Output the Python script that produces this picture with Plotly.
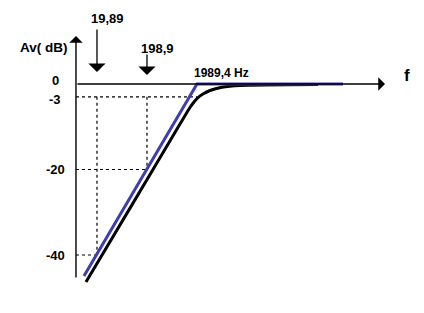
import numpy as np
import plotly.graph_objects as go

# ---- data (Bode sketch of a high-pass, 20 dB/decade) ----
corner_freqs = [19.89, 198.9, 1989.4]          # Hz
corner_levels = [-40, -20, -3]                 # dB levels marked with dotted guides
top_labels = ["19,89", "198,9"]
fc_label = "1989,4 Hz"

asym_f = [10.93, 1989.4, 1.654e6]              # blue asymptotic response
asym_db = [-44.9, 0, 0]

resp_f = [11.98, 119.8, 909.2, 1198, 1441, 1732, 2083, 2622, 3620, 6290, 14410, 523000]   # black real response
resp_db = [-46.3, -26.7, -9.36, -7.02, -5.5, -4.21, -3.16, -2.34, -1.52, -0.77, -0.35, -0.12]

ytick_vals = [0, -3, -20, -40]
ytick_text = ["0", "-3", "-20", "-40"]

# axis extents (frequency of the vertical axis, end of horizontal axis, dB extents)
F_AXIS = 7.56
F_END = 1.145e7
DB_TOP = 11.2
DB_BOTTOM = -45.6

BLUE = "#3d3db4"
FONT = "Liberation Sans"

fig = go.Figure()

# dotted guide lines
dot = dict(color="black", width=1.2, dash="dot")
fig.add_trace(go.Scatter(x=[F_AXIS, corner_freqs[2]], y=[corner_levels[2]] * 2,
                         mode="lines", line=dot, hoverinfo="skip"))
fig.add_trace(go.Scatter(x=[corner_freqs[0]] * 2, y=[corner_levels[2], corner_levels[0]],
                         mode="lines", line=dot, hoverinfo="skip"))
fig.add_trace(go.Scatter(x=[corner_freqs[1]] * 2, y=[corner_levels[2], corner_levels[1]],
                         mode="lines", line=dot, hoverinfo="skip"))
fig.add_trace(go.Scatter(x=[F_AXIS, corner_freqs[1]], y=[corner_levels[1]] * 2,
                         mode="lines", line=dot, hoverinfo="skip"))
fig.add_trace(go.Scatter(x=[F_AXIS, corner_freqs[0]], y=[corner_levels[0]] * 2,
                         mode="lines", line=dict(color="black", width=1.2, dash="3px,3px"),
                         hoverinfo="skip"))

# real response (black) and asymptote (blue)
fig.add_trace(go.Scatter(x=resp_f, y=resp_db, mode="lines",
                         line=dict(color="black", width=3, shape="spline", smoothing=0.6),
                         hoverinfo="skip"))
fig.add_trace(go.Scatter(x=asym_f, y=asym_db, mode="lines",
                         line=dict(color=BLUE, width=3), hoverinfo="skip"))

ann = []
# axes as arrows
ann.append(dict(x=np.log10(F_AXIS), y=DB_TOP, ax=np.log10(F_AXIS), ay=DB_BOTTOM,
                xref="x", yref="y", axref="x", ayref="y", text="", showarrow=True,
                arrowhead=1, arrowsize=1.6, arrowwidth=1.4, arrowcolor="black"))
ann.append(dict(x=np.log10(F_END), y=0, ax=np.log10(F_AXIS), ay=0,
                xref="x", yref="y", axref="x", ayref="y", text="", showarrow=True,
                arrowhead=1, arrowsize=1.6, arrowwidth=1.4, arrowcolor="black"))

# axis titles
ann.append(dict(x=44 / 424, y=DB_TOP, xref="paper", yref="y", text="<b>Av( dB)</b>",
                showarrow=False, xanchor="center", yanchor="middle", yshift=-11,
                font=dict(family=FONT, size=13.5, color="black")))
ann.append(dict(x=407 / 424, y=0, xref="paper", yref="y", text="<b>f</b>",
                showarrow=False, xanchor="center", yanchor="middle", yshift=9,
                font=dict(family=FONT, size=17, color="black")))

# y tick labels
shifts = {0: 4, -3: -3, -20: 0, -40: -1}
for v, t in zip(ytick_vals, ytick_text):
    ann.append(dict(x=55 / 424, y=v, xref="paper", yref="y", text=f"<b>{t}</b>",
                    showarrow=False, xanchor="center", yanchor="middle", yshift=shifts[v],
                    font=dict(family=FONT, size=13, color="black")))

# downward arrows with frequency labels
arrow_tail = [-56, -31]
arrow_standoff = [12, 9]
label_shift = [66, 36]
for f, lab, tail, so, ls in zip(corner_freqs[:2], top_labels, arrow_tail, arrow_standoff, label_shift):
    ann.append(dict(x=np.log10(f), y=0, xref="x", yref="y", ax=0, ay=tail, text="",
                    showarrow=True, arrowhead=1, arrowsize=2.2, arrowwidth=1.3,
                    arrowcolor="black", standoff=so))
    ann.append(dict(x=np.log10(f), y=0, xref="x", yref="y", text=f"<b>{lab}</b>",
                    showarrow=False, xanchor="center", yanchor="middle", xshift=11, yshift=ls,
                    font=dict(family=FONT, size=13, color="black")))

ann.append(dict(x=np.log10(corner_freqs[2]), y=0, xref="x", yref="y", text=f"<b>{fc_label}</b>",
                showarrow=False, xanchor="left", yanchor="bottom", xshift=-5, yshift=2,
                font=dict(family=FONT, size=12, color="black")))

fig.update_layout(
    width=424, height=313,
    margin=dict(l=0, r=0, t=0, b=0),
    paper_bgcolor="white", plot_bgcolor="white",
    showlegend=False,
    xaxis=dict(type="log", range=[-0.641, 7.839], visible=False, fixedrange=True),
    yaxis=dict(range=[-53.57, 19.65], visible=False, fixedrange=True),
    annotations=ann,
)

fig.write_html("out.html", config={"displayModeBar": False})
